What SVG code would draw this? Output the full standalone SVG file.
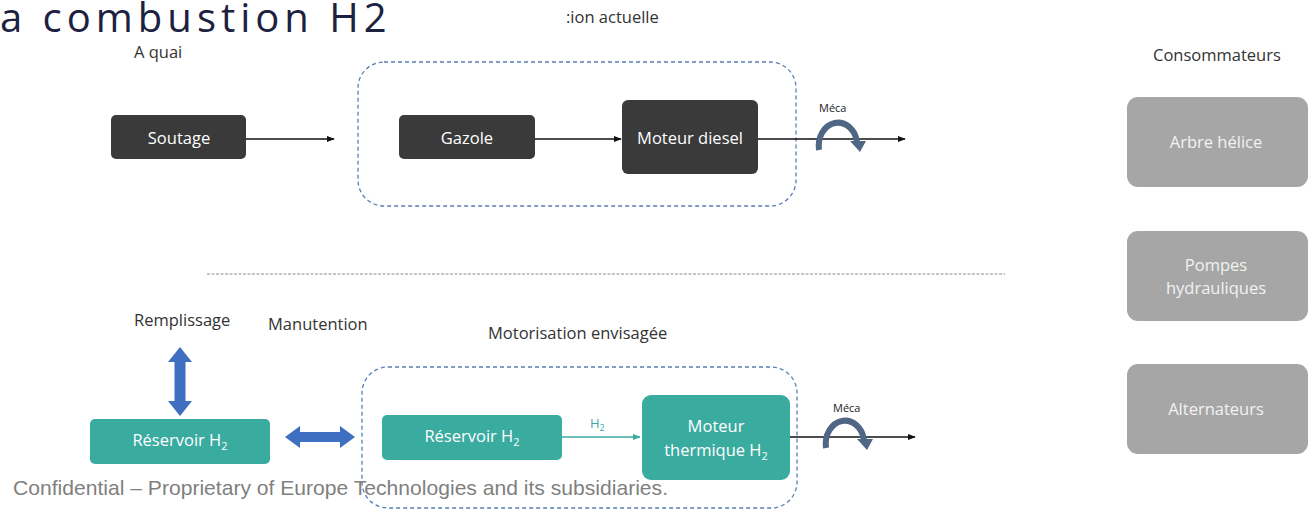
<svg xmlns="http://www.w3.org/2000/svg" width="1308" height="510" viewBox="0 0 1308 510">
  <defs>
    <marker id="arrowBlack" viewBox="0 0 10 10" refX="9" refY="5" markerWidth="5" markerHeight="5" orient="auto">
      <path d="M0,1 L10,5 L0,9 Z" fill="#111"/>
    </marker>
    <marker id="arrowTeal" viewBox="0 0 10 10" refX="9" refY="5" markerWidth="5" markerHeight="5" orient="auto">
      <path d="M0,1 L10,5 L0,9 Z" fill="#3aab9f"/>
    </marker>
    <style>
      .lbl { font-family: "Open Sans", "Noto Sans", sans-serif; font-size: 16.5px; fill: #333; }
      .dark { fill: #3a3a3a; }
      .teal { fill: #3aab9f; }
      .grey { fill: #a6a6a6; }
      .wt { font-family: "Open Sans", "Noto Sans", sans-serif; font-size: 16.5px; fill: #fff; text-anchor: middle; }
      .gt { font-family: "Open Sans", "Noto Sans", sans-serif; font-size: 16.5px; fill: #f2f2f2; text-anchor: middle; }
      .sub { font-size: 11px; }
      .frame { fill: none; stroke: #5a7fb5; stroke-width: 1.3; stroke-dasharray: 4 3; }
      .flow { stroke: #111; stroke-width: 1.6; fill: none; }
      .rot { fill: none; stroke: #4f6785; stroke-width: 6; }
      .meca { font-family: "Open Sans", "Noto Sans", sans-serif; font-size: 11px; fill: #222; }
      .blue2 { fill: #3f6fc0; }
    </style>
  </defs>

  <!-- title and section labels -->
  <text x="0" y="32" font-family="Open Sans, Noto Sans, sans-serif" font-size="40" fill="#1c2140" letter-spacing="5">a combustion H2</text>
  <text class="lbl" x="134" y="58">A quai</text>
  <text class="lbl" x="566" y="23">:ion actuelle</text>
  <text class="lbl" x="134" y="326">Remplissage</text>
  <text class="lbl" x="268" y="330">Manutention</text>
  <text class="lbl" x="488" y="339">Motorisation envisagée</text>
  <text class="lbl" x="1153" y="61">Consommateurs</text>

  <!-- system frames -->
  <rect class="frame" x="358" y="62" width="438" height="144" rx="26"/>
  <rect class="frame" x="362" y="367" width="435" height="141" rx="26"/>
  <line x1="207" y1="274" x2="1005" y2="274" stroke="#8c8c8c" stroke-width="1" stroke-dasharray="3 1.5"/>

  <!-- current propulsion -->
  <g id="soutage">
    <rect class="dark" x="111" y="115" width="135" height="44" rx="5"/>
    <text class="wt" x="179" y="144">Soutage</text>
  </g>
  <g id="gazole">
    <rect class="dark" x="399" y="115" width="136" height="44" rx="5"/>
    <text class="wt" x="467" y="144">Gazole</text>
  </g>
  <g id="moteur-diesel">
    <rect class="dark" x="622" y="100" width="136" height="74" rx="6"/>
    <text class="wt" x="690" y="144">Moteur diesel</text>
  </g>

  <!-- planned propulsion -->
  <g id="reservoir-quai">
    <rect class="teal" x="90" y="419" width="180" height="45" rx="5"/>
    <text class="wt" x="180" y="446">Réservoir H<tspan class="sub" dy="4">2</tspan></text>
  </g>
  <g id="reservoir-bord">
    <rect class="teal" x="382" y="415" width="180" height="45" rx="5"/>
    <text class="wt" x="472" y="442">Réservoir H<tspan class="sub" dy="4">2</tspan></text>
  </g>
  <g id="moteur-h2">
    <rect class="teal" x="642" y="395" width="148" height="85" rx="9"/>
    <text class="wt" x="716" y="432">Moteur</text>
    <text class="wt" x="716" y="456">thermique H<tspan class="sub" dy="4">2</tspan></text>
  </g>

  <!-- consumers -->
  <g id="arbre-helice">
    <rect class="grey" x="1127" y="97" width="181" height="90" rx="11"/>
    <text class="gt" x="1216" y="148">Arbre hélice</text>
  </g>
  <g id="pompes">
    <rect class="grey" x="1127" y="231" width="181" height="90" rx="11"/>
    <text class="gt" x="1216" y="271">Pompes</text>
    <text class="gt" x="1216" y="294">hydrauliques</text>
  </g>
  <g id="alternateurs">
    <rect class="grey" x="1127" y="364" width="181" height="90" rx="11"/>
    <text class="gt" x="1216" y="415">Alternateurs</text>
  </g>

  <!-- connectors -->
  <g id="connectors">
    <line class="flow" x1="246" y1="139" x2="334" y2="139" marker-end="url(#arrowBlack)"/>
    <line class="flow" x1="535" y1="139" x2="621" y2="139" marker-end="url(#arrowBlack)"/>
    <line class="flow" x1="758" y1="139" x2="905" y2="139" marker-end="url(#arrowBlack)"/>
    <line class="flow" x1="790" y1="437" x2="915" y2="437" marker-end="url(#arrowBlack)"/>
    <line x1="562" y1="437" x2="640" y2="437" stroke="#3aab9f" stroke-width="1.6" marker-end="url(#arrowTeal)"/>
    <text x="590" y="428" font-family="Open Sans, Noto Sans, sans-serif" font-size="13" fill="#3aab9f">H<tspan font-size="9" dy="3">2</tspan></text>

    <!-- mechanical output symbols -->
    <text class="meca" x="819" y="112">Méca</text>
    <path class="rot" d="M819,150 A19,23 0 0 1 857,142"/>
    <path d="M850,141 L866,141 L860,152 Z" fill="#4f6785"/>
    <text class="meca" x="833" y="412">Méca</text>
    <path class="rot" d="M826,448 A19,23 0 0 1 864,440"/>
    <path d="M857,439 L873,439 L867,450 Z" fill="#4f6785"/>

    <!-- handling double arrows -->
    <path class="blue2" d="M180,347 L192,362 L185.5,362 L185.5,401 L192,401 L180,416 L168,401 L174.5,401 L174.5,362 L168,362 Z"/>
    <path class="blue2" d="M285,437 L300,426 L300,432 L340,432 L340,426 L355,437 L340,448 L340,442 L300,442 L300,448 Z"/>
  </g>

  <!-- footer -->
  <text x="13" y="495" font-family="Liberation Sans, Arial, sans-serif" font-size="21" fill="#808080" textLength="655" lengthAdjust="spacingAndGlyphs">Confidential – Proprietary of Europe Technologies and its subsidiaries.</text>
</svg>
